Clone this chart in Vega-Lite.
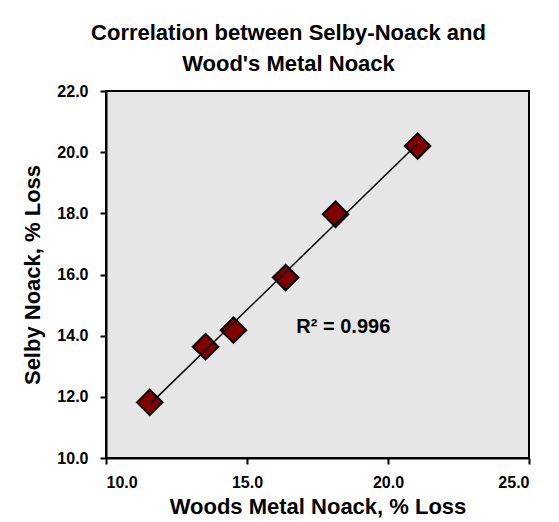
{
  "$schema": "https://vega.github.io/schema/vega-lite/v6.json",
  "width": 423,
  "height": 367,
  "autosize": {"type": "none"},
  "padding": {"left": 106, "top": 91, "right": 30, "bottom": 64},
  "background": "white",
  "title": {
    "text": ["Correlation between Selby-Noack and", "Wood's Metal Noack"],
    "font": "Liberation Sans",
    "fontSize": 22,
    "fontWeight": "bold",
    "color": "black",
    "anchor": "middle",
    "dx": -29,
    "offset": 7,
    "lineHeight": 31
  },
  "config": {
    "view": {"fill": "#e6e6e6", "stroke": "black", "strokeWidth": 2},
    "axis": {
      "grid": false,
      "domainColor": "black",
      "domainWidth": 2,
      "tickColor": "black",
      "tickWidth": 2,
      "tickSize": 6,
      "labelFont": "Liberation Sans",
      "labelFontSize": 16,
      "labelFontWeight": "bold",
      "labelColor": "black",
      "labelPadding": 12,
      "titleFont": "Liberation Sans",
      "titleFontSize": 22,
      "titleFontWeight": "bold",
      "titleColor": "black"
    }
  },
  "data": {
    "values": [
      {"woods": 11.55, "selby": 11.82},
      {"woods": 13.53, "selby": 13.64},
      {"woods": 14.52, "selby": 14.18},
      {"woods": 16.37, "selby": 15.90},
      {"woods": 18.14, "selby": 17.97},
      {"woods": 21.05, "selby": 20.20}
    ]
  },
  "layer": [
    {
      "mark": {"type": "point", "shape": "diamond", "filled": true, "fill": "#800000", "stroke": "black", "strokeWidth": 2, "size": 650, "opacity": 1},
      "encoding": {
        "x": {
          "field": "woods", "type": "quantitative",
          "scale": {"domain": [10, 25], "nice": false, "zero": false},
          "axis": {"values": [10, 15, 20, 25], "format": ".1f", "title": "Woods Metal Noack, % Loss", "labelPadding": 10, "titlePadding": 6}
        },
        "y": {
          "field": "selby", "type": "quantitative",
          "scale": {"domain": [10, 22], "nice": false, "zero": false},
          "axis": {"values": [10, 12, 14, 16, 18, 20, 22], "format": ".1f", "title": "Selby Noack, % Loss", "titlePadding": 12}
        }
      }
    },
    {
      "transform": [{"regression": "selby", "on": "woods"}],
      "mark": {"type": "line", "color": "black", "strokeWidth": 1.5},
      "encoding": {
        "x": {"field": "woods", "type": "quantitative"},
        "y": {"field": "selby", "type": "quantitative"}
      }
    },
    {
      "data": {"values": [{"label": "R² = 0.996"}]},
      "mark": {"type": "text", "font": "Liberation Sans", "fontSize": 20, "fontWeight": "bold", "color": "black", "align": "left", "baseline": "alphabetic"},
      "encoding": {
        "x": {"datum": 16.75, "type": "quantitative"},
        "y": {"datum": 14.09, "type": "quantitative"},
        "text": {"field": "label"}
      }
    }
  ]
}
